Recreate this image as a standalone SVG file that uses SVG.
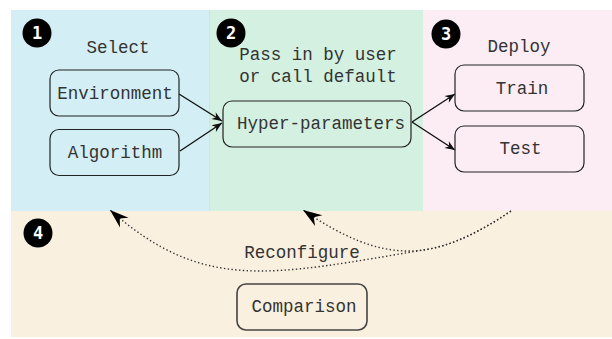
<svg xmlns="http://www.w3.org/2000/svg" width="612" height="339" viewBox="0 0 612 339">
  <style>
    .lbl { font-family: "Liberation Mono", "DejaVu Sans Mono", monospace; font-size: 17.5px; fill: #333; text-anchor: middle; }
    .box { fill: none; stroke: #222; stroke-width: 1.2; }
    .num { font-family: "DejaVu Sans Mono", "Liberation Mono", monospace; font-weight: bold; font-size: 17px; fill: #fff; text-anchor: middle; }
    .badge { fill: #000; }
    .edge { fill: none; stroke: #111; stroke-width: 1.4; marker-end: url(#arr); }
    .dot { fill: none; stroke: #333; stroke-width: 1.4; stroke-dasharray: 1.4 2.4; marker-end: url(#big); }
  </style>
  <defs>
    <marker id="arr" viewBox="-11 -5 12 10" refX="0" refY="0" markerWidth="12" markerHeight="10" orient="auto" markerUnits="userSpaceOnUse">
      <path d="M0,0 L-10,-4 L-7,0 L-10,4 Z" fill="#111"/>
    </marker>
    <marker id="big" viewBox="-20 -8 21 16" refX="0" refY="0" markerWidth="21" markerHeight="16" orient="auto" markerUnits="userSpaceOnUse">
      <path d="M0,0 L-19,-6.5 L-13,0 L-19,6.5 Z" fill="#000"/>
    </marker>
  </defs>

  <g id="panels">
    <rect x="11" y="10" width="198.5" height="201" fill="#d3eff5"/>
    <rect x="209.5" y="10" width="213.5" height="201" fill="#d3f0e0"/>
    <rect x="423" y="10" width="189" height="201" fill="#fcedf4"/>
    <rect x="11" y="211" width="601" height="126" fill="#faf0df"/>
    <line x1="209.5" y1="10" x2="209.5" y2="211" stroke="#bfe3e3" stroke-width="0.8"/>
  </g>

  <g id="badges">
    <circle class="badge" cx="37" cy="33" r="14.5"/>
    <text class="num" x="37" y="39">1</text>
    <circle class="badge" cx="231" cy="33" r="14.5"/>
    <text class="num" x="231" y="39">2</text>
    <circle class="badge" cx="446" cy="34" r="14.5"/>
    <text class="num" x="446" y="40">3</text>
    <circle class="badge" cx="38" cy="233" r="14.5"/>
    <text class="num" x="38" y="239">4</text>
  </g>

  <g id="headings">
    <text class="lbl" x="118" y="52.5">Select</text>
    <text class="lbl" x="318" y="59.5">Pass in by user</text>
    <text class="lbl" x="318" y="81.5">or call default</text>
    <text class="lbl" x="519" y="52">Deploy</text>
  </g>

  <g id="connectors">
    <path class="edge" d="M179,94 L222,121"/>
    <path class="edge" d="M180,151 L222,123"/>
    <path class="edge" d="M412,122 L455,94"/>
    <path class="edge" d="M412,122 L455,150"/>
    <path class="dot" d="M511,211 C432,264 384,265 303,210"/>
    <path class="dot" d="M511,211 C479.4,232.2 452.76,245.08 426.98,249.38 C269.2,275.8 203.75,292.5 110,210"/>
    <text class="lbl" x="302" y="258">Reconfigure</text>
  </g>

  <g id="environment">
    <rect class="box" x="50" y="70" width="129" height="46" rx="9"/>
    <text class="lbl" x="115" y="99">Environment</text>
  </g>
  <g id="algorithm">
    <rect class="box" x="50" y="129.5" width="129" height="46" rx="9"/>
    <text class="lbl" x="115" y="158">Algorithm</text>
  </g>
  <g id="hyperparameters">
    <rect class="box" x="223" y="101" width="188" height="46" rx="9"/>
    <text class="lbl" x="321" y="128.5">Hyper-parameters</text>
  </g>
  <g id="train">
    <rect class="box" x="455" y="65" width="129" height="46" rx="9"/>
    <text class="lbl" x="522" y="93.5">Train</text>
  </g>
  <g id="test">
    <rect class="box" x="455" y="126" width="129" height="46" rx="9"/>
    <text class="lbl" x="520.5" y="154">Test</text>
  </g>
  <g id="comparison">
    <rect x="237" y="284" width="130" height="46" rx="9" fill="none" stroke="#444" stroke-width="1.6"/>
    <text class="lbl" x="304" y="311.5">Comparison</text>
  </g>
</svg>
